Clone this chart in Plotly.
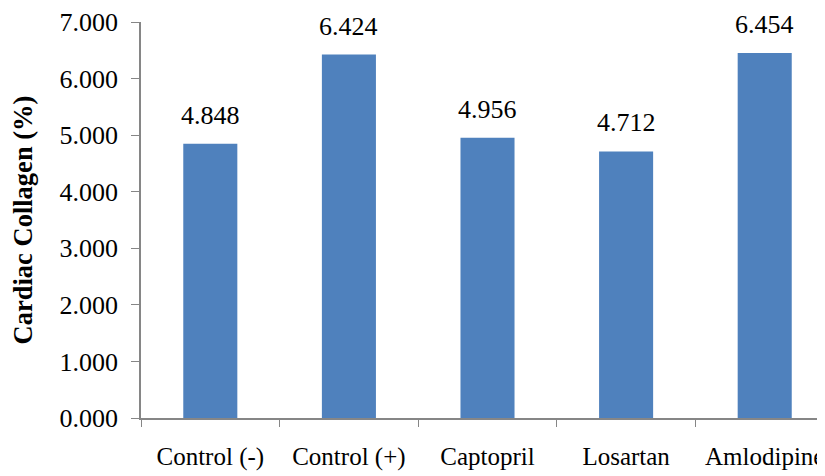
import plotly.graph_objects as go

categories = ["Control (-)", "Control (+)", "Captopril", "Losartan", "Amlodipine"]
values = [4.848, 6.424, 4.956, 4.712, 6.454]
y_ticks = [0, 1, 2, 3, 4, 5, 6, 7]
y_tick_labels = ["0.000", "1.000", "2.000", "3.000", "4.000", "5.000", "6.000", "7.000"]
y_title = "Cardiac Collagen (%)"

FONT = "Liberation Serif"
AXIS_COLOR = "#868686"

fig = go.Figure()
fig.add_trace(go.Bar(
    x=categories, y=values,
    marker=dict(color="#4F81BD", line=dict(width=0)),
    width=0.39,
))

for c, v in zip(categories, values):
    fig.add_annotation(
        x=c, y=v, text=f"{v:.3f}", showarrow=False,
        yanchor="bottom", yshift=12,
        font=dict(family=FONT, size=26, color="#000000"),
    )

# page body has an 8px default margin, so the figure is sized/offset to compensate
fig.update_layout(
    width=817, height=468,
    margin=dict(l=133, r=0, t=14, b=58, autoexpand=False),
    paper_bgcolor="white", plot_bgcolor="white",
    showlegend=False,
    font=dict(family=FONT, size=25, color="#000000"),
    xaxis=dict(
        range=[-0.5, 4.435], automargin=False,
        showline=True, linecolor=AXIS_COLOR, linewidth=1.5,
        ticks="outside", tickson="boundaries", ticklen=7, tickcolor=AXIS_COLOR,
        tickfont=dict(family=FONT, size=25),
        ticklabelstandoff=15,
        showgrid=False, zeroline=False,
    ),
    yaxis=dict(
        range=[0, 7], automargin=False,
        tickvals=y_ticks, ticktext=y_tick_labels,
        showline=True, linecolor=AXIS_COLOR, linewidth=1.5,
        ticks="outside", ticklen=8, tickcolor=AXIS_COLOR,
        tickfont=dict(family=FONT, size=26),
        ticklabelstandoff=8,
        showgrid=False, zeroline=False,
        title=dict(text="<b>" + y_title + "</b>", font=dict(family=FONT, size=26.5), standoff=31),
    ),
)

fig.write_html("out.html")
